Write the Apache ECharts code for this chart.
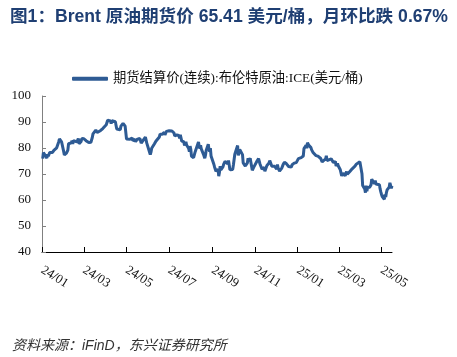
<!DOCTYPE html>
<html>
<head>
<meta charset="utf-8">
<script src="https://cdn.jsdelivr.net/npm/echarts@6/dist/echarts.min.js"></script>
<style>
html,body{margin:0;padding:0;background:#fff;}
#chart{width:457px;height:357px;}
</style>
</head>
<body>
<div id="chart"></div>
<script>
// ---- data ----
const titleText = '图1：Brent 原油期货价 65.41 美元/桶，月环比跌 0.67%';
const sourceText = '资料来源：iFinD，东兴证券研究所';
const seriesName = '期货结算价(连续):布伦特原油:ICE(美元/桶)';

const tickDates = ['2024-01-01','2024-03-01','2024-05-01','2024-07-01','2024-09-01','2024-11-01','2025-01-01','2025-03-01','2025-05-01'];
const tickLabels = ['24/01','24/03','24/05','24/07','24/09','24/11','25/01','25/03','25/05'];
const axisStart = '2024-01-01';
const axisEnd = '2025-05-16';

const dates = [
'2024-01-02','2024-01-03','2024-01-04','2024-01-05','2024-01-08','2024-01-09','2024-01-10','2024-01-11','2024-01-12','2024-01-16','2024-01-17','2024-01-18','2024-01-19','2024-01-22','2024-01-23','2024-01-24','2024-01-25','2024-01-26','2024-01-29','2024-01-30','2024-01-31',
'2024-02-01','2024-02-02','2024-02-05','2024-02-06','2024-02-07','2024-02-08','2024-02-09','2024-02-12','2024-02-13','2024-02-14','2024-02-15','2024-02-16','2024-02-20','2024-02-21','2024-02-22','2024-02-23','2024-02-26','2024-02-27','2024-02-28','2024-02-29',
'2024-03-01','2024-03-04','2024-03-05','2024-03-06','2024-03-07','2024-03-08','2024-03-11','2024-03-12','2024-03-13','2024-03-14','2024-03-15','2024-03-18','2024-03-19','2024-03-20','2024-03-21','2024-03-22','2024-03-25','2024-03-26','2024-03-27','2024-03-28',
'2024-04-02','2024-04-03','2024-04-04','2024-04-05','2024-04-08','2024-04-09','2024-04-10','2024-04-11','2024-04-12','2024-04-15','2024-04-16','2024-04-17','2024-04-18','2024-04-19','2024-04-22','2024-04-23','2024-04-24','2024-04-25','2024-04-26','2024-04-29','2024-04-30',
'2024-05-01','2024-05-02','2024-05-03','2024-05-06','2024-05-07','2024-05-08','2024-05-09','2024-05-10','2024-05-13','2024-05-14','2024-05-15','2024-05-16','2024-05-17','2024-05-20','2024-05-21','2024-05-22','2024-05-23','2024-05-24','2024-05-28','2024-05-29','2024-05-30','2024-05-31',
'2024-06-03','2024-06-04','2024-06-05','2024-06-06','2024-06-07','2024-06-10','2024-06-11','2024-06-12','2024-06-13','2024-06-14','2024-06-17','2024-06-18','2024-06-19','2024-06-20','2024-06-21','2024-06-24','2024-06-25','2024-06-26','2024-06-27','2024-06-28',
'2024-07-01','2024-07-02','2024-07-03','2024-07-05','2024-07-08','2024-07-09','2024-07-10','2024-07-11','2024-07-12','2024-07-15','2024-07-16','2024-07-17','2024-07-18','2024-07-19','2024-07-22','2024-07-23','2024-07-24','2024-07-25','2024-07-26','2024-07-29','2024-07-30','2024-07-31',
'2024-08-01','2024-08-02','2024-08-05','2024-08-06','2024-08-07','2024-08-08','2024-08-09','2024-08-12','2024-08-13','2024-08-14','2024-08-15','2024-08-16','2024-08-19','2024-08-20','2024-08-21','2024-08-22','2024-08-23','2024-08-26','2024-08-27','2024-08-28','2024-08-29','2024-08-30',
'2024-09-03','2024-09-04','2024-09-05','2024-09-06','2024-09-09','2024-09-10','2024-09-11','2024-09-12','2024-09-13','2024-09-16','2024-09-17','2024-09-18','2024-09-19','2024-09-20','2024-09-23','2024-09-24','2024-09-25','2024-09-26','2024-09-27','2024-09-30',
'2024-10-01','2024-10-02','2024-10-03','2024-10-04','2024-10-07','2024-10-08','2024-10-09','2024-10-10','2024-10-11','2024-10-14','2024-10-15','2024-10-16','2024-10-17','2024-10-18','2024-10-21','2024-10-22','2024-10-23','2024-10-24','2024-10-25','2024-10-28','2024-10-29','2024-10-30','2024-10-31',
'2024-11-01','2024-11-04','2024-11-05','2024-11-06','2024-11-07','2024-11-08','2024-11-11','2024-11-12','2024-11-13','2024-11-14','2024-11-15','2024-11-18','2024-11-19','2024-11-20','2024-11-21','2024-11-22','2024-11-25','2024-11-26','2024-11-27','2024-11-29',
'2024-12-02','2024-12-03','2024-12-04','2024-12-05','2024-12-06','2024-12-09','2024-12-10','2024-12-11','2024-12-12','2024-12-13','2024-12-16','2024-12-17','2024-12-18','2024-12-19','2024-12-20','2024-12-23','2024-12-24','2024-12-27','2024-12-30','2024-12-31',
'2025-01-02','2025-01-03','2025-01-06','2025-01-07','2025-01-08','2025-01-09','2025-01-10','2025-01-13','2025-01-14','2025-01-15','2025-01-16','2025-01-17','2025-01-20','2025-01-21','2025-01-22','2025-01-23','2025-01-24','2025-01-27','2025-01-28','2025-01-29','2025-01-30','2025-01-31',
'2025-02-03','2025-02-04','2025-02-05','2025-02-06','2025-02-07','2025-02-10','2025-02-11','2025-02-12','2025-02-13','2025-02-14','2025-02-18','2025-02-19','2025-02-20','2025-02-21','2025-02-24','2025-02-25','2025-02-26','2025-02-27','2025-02-28',
'2025-03-03','2025-03-04','2025-03-05','2025-03-06','2025-03-07','2025-03-10','2025-03-11','2025-03-12','2025-03-13','2025-03-14','2025-03-17','2025-03-18','2025-03-19','2025-03-20','2025-03-21','2025-03-24','2025-03-25','2025-03-26','2025-03-27','2025-03-28','2025-03-31',
'2025-04-01','2025-04-02','2025-04-03','2025-04-04','2025-04-07','2025-04-08','2025-04-09','2025-04-10','2025-04-11','2025-04-14','2025-04-15','2025-04-16','2025-04-17','2025-04-21','2025-04-22','2025-04-23','2025-04-24','2025-04-25','2025-04-28','2025-04-29','2025-04-30',
'2025-05-01','2025-05-02','2025-05-05','2025-05-06','2025-05-07','2025-05-08','2025-05-09','2025-05-12','2025-05-13','2025-05-14','2025-05-15','2025-05-16'
];

const prices = [
75.89,78.25,77.59,78.76,76.12,77.59,76.80,77.41,78.29,78.29,77.88,79.10,78.56,80.06,79.55,80.04,82.43,83.55,82.40,82.87,81.71,
78.70,77.33,78.00,78.59,79.21,81.63,82.19,82.00,82.77,81.60,82.86,83.47,82.34,83.03,83.67,81.62,82.53,83.65,83.68,83.62,
83.55,82.80,82.04,82.96,83.00,82.08,82.21,81.92,84.03,85.42,85.34,86.89,87.38,85.95,85.78,85.43,86.75,86.25,86.09,87.48,
88.92,89.35,90.65,91.17,90.38,89.42,90.48,89.74,90.45,90.10,90.02,87.29,87.11,87.29,87.00,88.42,88.02,89.01,89.50,88.40,87.86,
83.44,83.67,82.96,83.33,82.88,83.58,83.88,82.79,83.36,82.38,82.75,83.27,83.98,83.71,82.88,81.90,81.36,82.12,84.22,83.60,81.86,81.62,
78.36,77.52,78.41,79.87,79.62,81.63,81.92,82.60,82.75,82.62,84.25,85.33,85.07,85.71,85.24,86.01,85.01,85.25,86.39,86.41,
86.60,86.24,87.34,86.54,85.75,84.66,85.08,85.40,85.03,84.85,83.73,85.08,85.11,82.63,82.40,81.01,81.71,82.37,81.13,79.78,78.63,80.72,
79.52,76.81,76.30,76.48,78.33,79.16,79.66,82.30,80.69,79.76,81.04,79.68,77.66,77.20,76.05,77.22,79.02,81.43,79.55,78.65,79.94,76.93,
73.75,72.70,72.69,71.06,71.84,69.19,70.61,72.97,71.61,72.75,73.70,73.65,74.88,74.49,73.90,75.17,73.46,71.60,71.98,71.77,
73.56,73.90,77.62,78.05,80.93,77.18,76.58,79.40,79.04,77.46,74.25,74.22,74.45,73.06,74.29,76.04,74.96,74.38,76.05,71.42,71.12,72.55,73.16,
73.10,75.08,75.53,75.92,75.63,73.87,71.83,71.89,72.28,72.56,71.04,73.30,73.31,72.81,74.23,75.17,73.01,72.81,72.83,72.94,
71.83,73.62,72.31,72.09,71.12,72.14,72.19,73.52,73.41,74.49,73.91,73.19,73.39,72.88,72.94,72.63,73.58,74.17,74.39,74.64,
75.93,76.51,76.30,77.05,76.16,76.92,79.76,81.01,79.92,82.03,81.29,81.00,80.15,79.29,79.00,78.29,78.50,77.08,77.49,76.58,76.87,76.76,
75.96,76.20,74.61,74.29,74.66,75.87,77.00,75.18,75.02,74.74,75.84,76.04,76.48,74.43,74.78,73.02,72.53,74.04,73.18,
71.62,71.04,69.30,69.46,70.36,69.28,69.56,70.95,69.88,70.58,71.07,70.56,70.78,72.00,72.16,73.00,73.02,73.79,74.03,73.63,74.74,
74.49,74.95,70.14,65.58,64.21,62.82,65.48,63.33,64.76,64.88,64.67,65.85,67.96,66.26,67.44,66.12,66.55,66.87,65.86,64.25,63.12,
62.13,61.29,60.23,62.15,61.12,62.84,63.91,64.96,66.63,66.09,64.53,65.41
];

const yMin = 40, yMax = 100, yStep = 10;

// ---- build: x is the day count since the axis start ----
function dayOf(s){ const p = s.split('-').map(Number); return Date.UTC(p[0], p[1]-1, p[2]) / 86400000; }
const day0 = dayOf(axisStart);
const seriesData = dates.map((d,i)=>[dayOf(d) - day0, prices[i]]);
const tickDays = tickDates.map(d => dayOf(d) - day0);

const serif = '"Liberation Serif","Times New Roman","Noto Sans CJK SC",serif';
const sans = '"Liberation Sans",Arial,"Noto Sans CJK SC",sans-serif';
const chart = echarts.init(document.getElementById('chart'), null, {renderer:'canvas'});
chart.setOption({
  animation:false,
  backgroundColor:'#fff',
  title:[
    {text:titleText, left:5, top:3,
     textStyle:{fontFamily:sans, fontWeight:'bold', fontSize:17.6, color:'#1f3f73'}},
    {text:sourceText, left:7, top:334,
     textStyle:{fontFamily:sans, fontStyle:'italic', fontWeight:'normal', fontSize:14, color:'#333'}}
  ],
  legend:{
    data:[seriesName], left:67, top:67, icon:'roundRect', itemWidth:36, itemHeight:4, itemGap:4,
    textStyle:{fontFamily:serif, fontSize:13.3, color:'#111'}
  },
  grid:{left:42, right:65, top:96, bottom:105, containLabel:false},
  xAxis:{
    type:'value', min:0, max:dayOf(axisEnd) - day0,
    axisLine:{lineStyle:{color:'#000', width:1}},
    axisTick:{show:true, inside:true, length:5, lineStyle:{color:'#000'}, customValues:tickDays},
    axisLabel:{customValues:tickDays, rotate:-32, margin:17, fontFamily:serif, fontSize:13, color:'#111',
      formatter:function(v){ const i = tickDays.indexOf(v); return i>=0 ? tickLabels[i] : ''; }},
    splitLine:{show:false}
  },
  yAxis:{
    type:'value', min:yMin, max:yMax, interval:yStep,
    axisLine:{show:true, lineStyle:{color:'#808080', width:1}},
    axisTick:{show:true, inside:true, length:4, lineStyle:{color:'#808080'}},
    axisLabel:{fontFamily:serif, fontSize:13, color:'#111', margin:11},
    splitLine:{show:false}
  },
  series:[{
    name:seriesName, type:'line', data:seriesData, showSymbol:false, symbol:'none',
    lineStyle:{color:'#2e5b94', width:3}, itemStyle:{color:'#2e5b94'}
  }]
});
</script>
</body>
</html>
